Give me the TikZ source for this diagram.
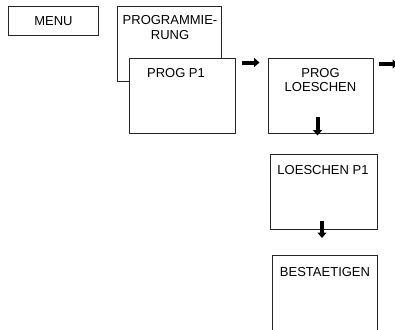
\documentclass[tikz,border=0pt]{standalone}
\usepackage{fontspec}
\setmainfont{Liberation Sans}
\usetikzlibrary{arrows.meta}
\begin{document}
\begin{tikzpicture}[x=1pt,y=-1pt,
  box/.style={draw=black!85, line width=0.9pt, fill=white, rectangle, inner sep=0pt, anchor=north west},
  txt/.style={font=\fontsize{13}{14.5}\selectfont, align=center, inner sep=0pt, anchor=north},
  bigarrow/.style={line width=4pt, -{Triangle[length=5.5pt,width=9pt]}}]
\useasboundingbox (0,0) rectangle (395,329);
\clip (0,0) rectangle (395,329);
% boxes
\node[box, minimum width=90pt, minimum height=29pt, font=\fontsize{13}{14.5}\selectfont] (menu) at (8,6) {MENU};
\node[box, minimum width=104pt, minimum height=75pt] (prog) at (117,6) {};
\node[txt] (progt) at (170,15.7) {PROGRAMMIE-\\RUNG};
\node[box, minimum width=106pt, minimum height=75pt] (p1) at (129,58) {};
\node[txt] (p1t) at (176,68) {PROG P1};
\node[box, minimum width=105pt, minimum height=75pt] (del) at (268,58) {};
\node[txt] (delt) at (320.5,68) {PROG\\LOESCHEN};
\node[box, minimum width=107pt, minimum height=75pt] (delp1) at (270,154) {};
\node[txt] (delp1t) at (323,165) {LOESCHEN P1};
\node[box, minimum width=105pt, minimum height=100pt] (conf) at (272,255) {};
\node[txt] (conft) at (325,267) {BESTAETIGEN};
% arrows
\coordinate (a1s) at (242,62.5);
\coordinate (a1e) at (259.5,62.5);
\coordinate (a2s) at (379,64);
\coordinate (a2e) at (398,64);
\coordinate (a3s) at (317.5,117);
\coordinate (a3e) at (317.5,135.5);
\coordinate (a4s) at (322,221);
\coordinate (a4e) at (322,238);
\draw[bigarrow] (a1s) -- (a1e);
\draw[bigarrow] (a2s) -- (a2e);
\draw[bigarrow] (a3s) -- (a3e);
\draw[bigarrow] (a4s) -- (a4e);
\end{tikzpicture}
\end{document}
